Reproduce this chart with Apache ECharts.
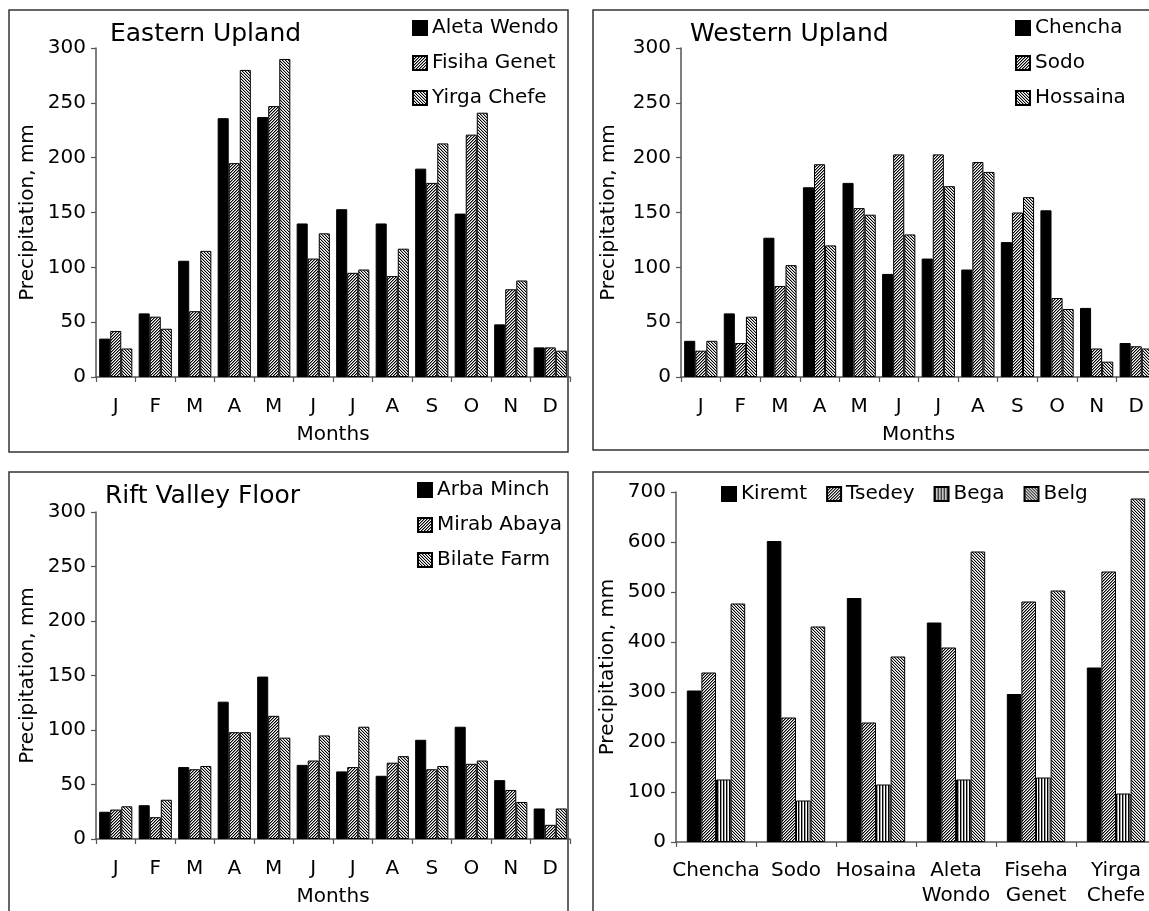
<!DOCTYPE html>
<html><head><meta charset="utf-8">
<script src="https://cdn.jsdelivr.net/npm/echarts@6/dist/echarts.min.js"></script>
<style>html,body{margin:0;padding:0;background:#fff;overflow:hidden}#c{width:1170px;height:911px}</style>
</head><body><div id="c"></div>
<script>
// ---- data ----
const months = ['J','F','M','A','M','J','J','A','S','O','N','D'];
const easternNames = ['Aleta Wendo','Fisiha Genet','Yirga Chefe'];
const aletaWendo = [35,58,106,236,237,140,153,140,190,149,48,27];
const fisihaGenet = [42,55,60,195,247,108,95,92,177,221,80,27];
const yirgaChefe = [26,44,115,280,290,131,98,117,213,241,88,24];
const westernNames = ['Chencha','Sodo','Hossaina'];
const chencha = [33,58,127,173,177,94,108,98,123,152,63,31];
const sodo = [24,31,83,194,154,203,203,196,150,72,26,28];
const hossaina = [33,55,102,120,148,130,174,187,164,62,14,26];
const riftNames = ['Arba Minch','Mirab Abaya','Bilate Farm'];
const arbaMinch = [25,31,66,126,149,68,62,58,91,103,54,28];
const mirabAbaya = [27,20,64,98,113,72,66,70,64,69,45,13];
const bilateFarm = [30,36,67,98,93,95,103,76,67,72,34,28];
const stations = ['Chencha','Sodo','Hosaina','Aleta\nWondo','Fiseha\nGenet','Yirga\nChefe'];
const seasonNames = ['Kiremt','Tsedey','Bega','Belg'];
const kiremt = [303,602,488,439,296,349];
const tsedey = [339,249,239,389,481,541];
const bega = [125,83,115,125,129,97];
const belg = [477,431,371,581,503,687];
const monthTicks = {min:0, max:300, interval:50};
const seasonTicks = {min:0, max:700, interval:100};
const titles = ['Eastern Upland','Western Upland','Rift Valley Floor'];
const yName = 'Precipitation, mm';
const xName = 'Months';

// ---- styles ----
const FF = '"DejaVu Sans", Verdana, sans-serif';
function makePattern(fn, w, h){
  const c = document.createElement('canvas'); c.width = w; c.height = h;
  const ctx = c.getContext('2d');
  ctx.fillStyle = '#fff'; ctx.fillRect(0,0,w,h);
  for (let y=0;y<h;y++) for (let x=0;x<w;x++){ const v = fn(x,y); if (v){ ctx.fillStyle = v; ctx.fillRect(x,y,1,1);} }
  return {image:c, repeat:'repeat'};
}
const mod = (a,n)=>((a%n)+n)%n;
const patA = makePattern((x,y)=> mod(x+y,3)===0 ? '#000' : (mod(x+y,3)===1 ? '#8a8a8a' : null), 3, 3);
const patB = makePattern((x,y)=> mod(x-y,3)===0 ? '#000' : (mod(x-y,3)===1 ? '#b0b0b0' : null), 3, 3);
const patV = makePattern((x,y)=> x%3===0 ? '#000' : (x%3===1 ? '#999' : null), 3, 3);

function bar(name, data, fill, idx, catGap){
  return {type:'bar', name, data, xAxisIndex:idx, yAxisIndex:idx,
    itemStyle:{color:fill, borderColor:'#000', borderWidth:1},
    barGap:'0%', barCategoryGap:catGap, animation:false};
}
const axisLine = {show:true, lineStyle:{color:'#555', width:1.5}};
const axisTick = {show:true, length:5, lineStyle:{color:'#555', width:1.2}};
const lbl = {color:'#000', fontSize:20, fontFamily:FF};

function xAxis(idx, data, extra){
  return Object.assign({type:'category', gridIndex:idx, data, axisLine, axisTick:Object.assign({interval:0}, axisTick),
    axisLabel:Object.assign({interval:0, margin:20}, lbl), splitLine:{show:false}}, extra||{});
}
function yAxis(idx, ticks, gap){
  return Object.assign({type:'value', gridIndex:idx, axisLine, axisTick, splitLine:{show:false},
    axisLabel:Object.assign({margin:10}, lbl), name:yName, nameLocation:'middle', nameGap:gap,
    nameTextStyle:lbl}, ticks);
}
function legend(data, left, top, orient, gap){
  return {data, left, top, orient, itemGap:gap, itemWidth:14, itemHeight:14, padding:0, selectedMode:false,
    icon:'rect', textStyle:{color:'#000', fontSize:20, fontFamily:FF}};
}
function title(text, left, top){
  return {text, left, top, padding:0, textStyle:{color:'#000', fontSize:25, fontWeight:'normal', fontFamily:FF}};
}
function frame(x, y, w, h){
  return {type:'rect', shape:{x, y, width:w, height:h}, style:{fill:'none', stroke:'#333', lineWidth:1.5}, silent:true};
}

const option = {
  backgroundColor:'#fff',
  animation:false,
  title:[title(titles[0],110,22), title(titles[1],690,22), title(titles[2],105,484)],
  legend:[legend(easternNames,412,18,'vertical',15), legend(westernNames,1015,18,'vertical',15),
          legend(riftNames,417,480,'vertical',15), legend(seasonNames,721,484,'horizontal',19)],
  grid:[
    {left:96, top:48, width:474, height:329},
    {left:681, top:48, width:475, height:329},
    {left:96, top:512, width:474, height:327},
    {left:676, top:492, width:480, height:350}
  ],
  xAxis:[
    xAxis(0, months, {name:xName, nameLocation:'middle', nameGap:48, nameTextStyle:lbl}),
    xAxis(1, months, {name:xName, nameLocation:'middle', nameGap:48, nameTextStyle:lbl}),
    xAxis(2, months, {name:xName, nameLocation:'middle', nameGap:48, nameTextStyle:lbl}),
    xAxis(3, stations, {axisLabel:Object.assign({interval:0, margin:16, lineHeight:25}, lbl)})
  ],
  yAxis:[yAxis(0, monthTicks, 58), yAxis(1, monthTicks, 62), yAxis(2, monthTicks, 58), yAxis(3, seasonTicks, 58)],
  series:[
    bar(easternNames[0], aletaWendo, '#000', 0, '16%'),
    bar(easternNames[1], fisihaGenet, patA, 0, '16%'),
    bar(easternNames[2], yirgaChefe, patB, 0, '16%'),
    bar(westernNames[0], chencha, '#000', 1, '16%'),
    bar(westernNames[1], sodo, patA, 1, '16%'),
    bar(westernNames[2], hossaina, patB, 1, '16%'),
    bar(riftNames[0], arbaMinch, '#000', 2, '16%'),
    bar(riftNames[1], mirabAbaya, patA, 2, '16%'),
    bar(riftNames[2], bilateFarm, patB, 2, '16%'),
    bar(seasonNames[0], kiremt, '#000', 3, '27%'),
    bar(seasonNames[1], tsedey, patA, 3, '27%'),
    bar(seasonNames[2], bega, patV, 3, '27%'),
    bar(seasonNames[3], belg, patB, 3, '27%')
  ],
  graphic:[frame(9,10,559,442), frame(593,10,600,440), frame(9,472,559,460), frame(593,472,600,460)]
};
const chart = echarts.init(document.getElementById('c'), null, {renderer:'canvas'});
chart.setOption(option);
</script></body></html>
